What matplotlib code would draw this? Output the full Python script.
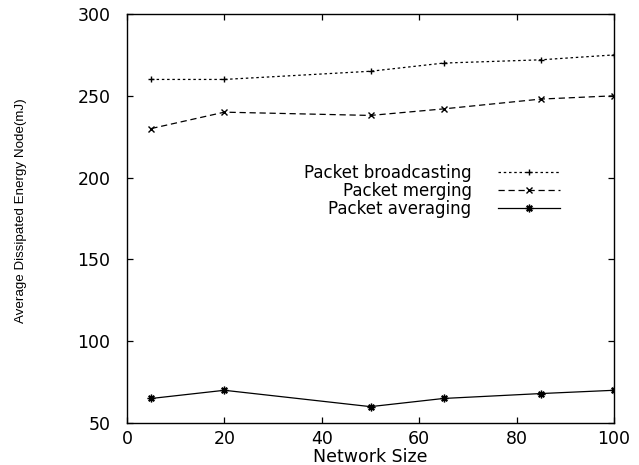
import matplotlib
matplotlib.use('Agg')
from matplotlib import pyplot as plt

# data
network_size = [5, 20, 50, 65, 85, 100]
broadcasting = [260, 260, 265, 270, 272, 275]
merging = [230, 240, 238, 242, 248, 250]
averaging = [65, 70, 60, 65, 68, 70]

labels = ['Packet broadcasting', 'Packet merging', 'Packet averaging']
x_ticks = [0, 20, 40, 60, 80, 100]
y_ticks = [50, 100, 150, 200, 250, 300]

plt.rcParams['font.family'] = ['DejaVu Sans']

fig = plt.figure(figsize=(6.39, 4.65), dpi=100)
ax = fig.add_axes([127 / 639, 42 / 465, 487 / 639, 409 / 465])

l1, = ax.plot(network_size, broadcasting, color='black', linewidth=0.9,
              dashes=(2, 2.2), marker='+', markersize=5, markeredgewidth=1.0)
l2, = ax.plot(network_size, merging, color='black', linewidth=0.9,
              dashes=(5, 3), marker='x', markersize=4.5, markeredgewidth=1.0)
l3, = ax.plot(network_size, averaging, color='black', linewidth=0.9,
              marker=(8, 2, 0), markersize=5.5, markeredgewidth=1.0)

ax.set_xlim(0, 100)
ax.set_ylim(50, 300)
ax.set_xticks(x_ticks)
ax.set_yticks(y_ticks)
ax.tick_params(direction='in', top=True, right=True, length=4, width=0.9,
               labelsize=12.5)
ax.tick_params(axis='y', pad=12)
ax.tick_params(axis='x', pad=5)
for s in ax.spines.values():
    s.set_linewidth(1.0)

ax.set_xlabel('Network Size', fontsize=12.5, labelpad=0)
ax.set_ylabel('Average Dissipated Energy Node(mJ)', fontsize=9.6,
              family=['DejaVu Sans Condensed', 'Liberation Sans'],
              fontstretch='condensed')
ax.yaxis.set_label_coords(-0.205, 0.52)

leg = ax.legend([l1, l2, l3], labels, loc='center right',
                bbox_to_anchor=(0.889, 0.567), frameon=False, markerfirst=False,
                fontsize=12, handlelength=3.7, handletextpad=1.6,
                labelspacing=0.0, borderpad=0, borderaxespad=0)
# right-align the rows like gnuplot keys
for col in leg._legend_handle_box.get_children():
    col.align = 'right'

fig.savefig('out.png', dpi=100)
